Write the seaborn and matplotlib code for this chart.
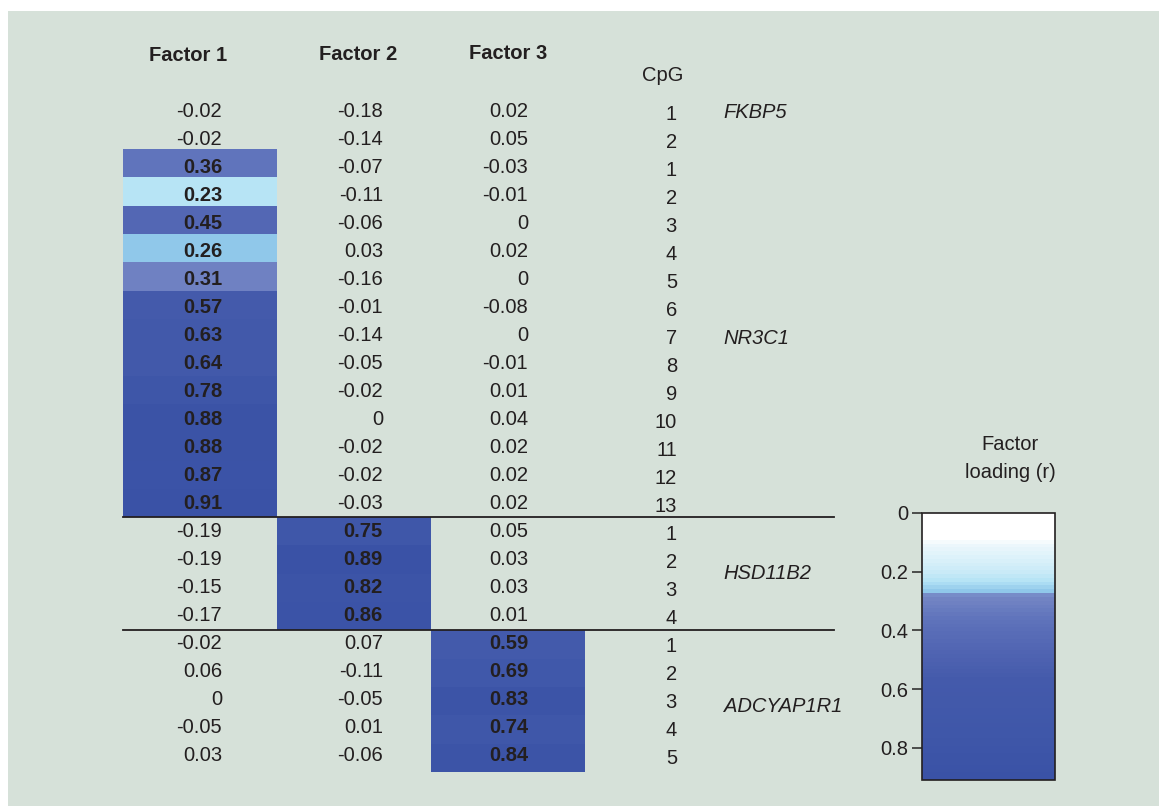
import numpy as np
import matplotlib
matplotlib.use("Agg")
import matplotlib.pyplot as plt
import seaborn as sns
from matplotlib.colors import LinearSegmentedColormap
from matplotlib.patches import Rectangle

plt.rcParams['font.family'] = ['Liberation Sans', 'DejaVu Sans']

# factor loadings per CpG row
factor1 = [-0.02, -0.02, 0.36, 0.23, 0.45, 0.26, 0.31, 0.57, 0.63, 0.64, 0.78, 0.88, 0.88, 0.87, 0.91,
           -0.19, -0.19, -0.15, -0.17, -0.02, 0.06, 0, -0.05, 0.03]
factor2 = [-0.18, -0.14, -0.07, -0.11, -0.06, 0.03, -0.16, -0.01, -0.14, -0.05, -0.02, 0, -0.02, -0.02, -0.03,
           0.75, 0.89, 0.82, 0.86, 0.07, -0.11, -0.05, 0.01, -0.06]
factor3 = [0.02, 0.05, -0.03, -0.01, 0, 0.02, 0, -0.08, 0, -0.01, 0.01, 0.04, 0.02, 0.02, 0.02,
           0.05, 0.03, 0.03, 0.01, 0.59, 0.69, 0.83, 0.74, 0.84]
cpg = [1, 2, 1, 2, 3, 4, 5, 6, 7, 8, 9, 10, 11, 12, 13, 1, 2, 3, 4, 1, 2, 3, 4, 5]
genes = ['FKBP5', 'NR3C1', 'HSD11B2', 'ADCYAP1R1']
gene_rows = [0.72, 8.70, 16.98, 21.68]
# which factor each gene block loads on (start row, end row, column)
blocks = [(2, 15, 0), (15, 19, 1), (19, 24, 2)]
headers = ['Factor 1', 'Factor 2', 'Factor 3']

data = np.array([factor1, factor2, factor3]).T
mask = np.ones_like(data, dtype=bool)
for r0, r1, c in blocks:
    mask[r0:r1, c] = False

vmax = 0.91
stops = [(0.00, '#ffffff'), (0.08, '#ffffff'), (0.10, '#eef8fc'), (0.20, '#c8eaf7'),
         (0.23, '#b3e2f5'), (0.26, '#94cbeb'), (0.268, '#8cc4e8'), (0.278, '#7586c4'),
         (0.31, '#6d80c2'), (0.36, '#5f73bb'), (0.45, '#5367b4'), (0.57, '#445aab'),
         (0.75, '#3f57a9'), (0.91, '#3a52a6')]
cmap = LinearSegmentedColormap.from_list('loading', [(v / vmax, c) for v, c in stops], N=70)

bg = '#d6e1d9'
fig = plt.figure(figsize=(11.59, 8.06), dpi=100, facecolor='white')
fig.add_artist(Rectangle((8 / 1159, 0), 1, 1 - 11 / 806, transform=fig.transFigure,
                         facecolor=bg, edgecolor='none', zorder=-10))

ax = fig.add_axes([123 / 1159, (806 - 772) / 806, 462 / 1159, 679.6 / 806])
cax = fig.add_axes([922 / 1159, (806 - 780) / 806, 133 / 1159, 267 / 806])

sns.heatmap(data, mask=mask, cmap=cmap, vmin=0, vmax=vmax, ax=ax, cbar_ax=cax,
            xticklabels=False, yticklabels=False, cbar_kws={'ticks': [0, 0.2, 0.4, 0.6, 0.8]})
ax.patch.set_alpha(0)
ax.set_xlim(0, 3)
ax.set_ylim(24, 0)

fs = 14.5
txt = '#231f20'
rh = 28.32  # pixel height of one row
right_off = [0.643, 0.688, 0.63]
for i in range(24):
    ty = (112 + 28.0 * i - 92.4) / rh
    for j in range(3):
        v = data[i, j]
        s = '0' if v == 0 else f'{v:.2f}'
        ax.text(j + right_off[j], ty, s, ha='right', va='center', fontsize=fs, color=txt,
                fontweight='normal' if mask[i, j] else 'bold', clip_on=False)
    ax.text(3.597, ty + 0.1, str(cpg[i]), ha='right', va='center', fontsize=fs, color=txt, clip_on=False)

for g, r in zip(genes, gene_rows):
    ax.text(3.90, r, g, ha='left', va='center', fontsize=fs, style='italic', color=txt, clip_on=False)

for j, (h, y) in enumerate(zip(headers, [-1.29, -1.33, -1.37])):
    ax.text([0.42, 1.526, 2.5][j], y, h, ha='center', va='center', fontsize=fs,
            fontweight='bold', color=txt, clip_on=False)
ax.text(3.506, -0.61, 'CpG', ha='center', va='center', fontsize=fs, color=txt, clip_on=False)

for yl in [15, 19]:
    ax.plot([0, 4.617], [yl, yl], color='#231f20', lw=1.3, clip_on=False)

# colorbar
cax.set_ylim(vmax, 0)
cax.yaxis.set_ticks_position('left')
cax.set_yticklabels(['0', '0.2', '0.4', '0.6', '0.8'])
cax.tick_params(axis='y', length=7, width=1.2, color='#333333', labelsize=fs, labelcolor=txt, pad=3)
cbar = ax.collections[0].colorbar
cbar.outline.set_visible(True)
cbar.outline.set_edgecolor('#231f20')
cbar.outline.set_linewidth(1.2)
fig.text(1010 / 1159, 1 - 458 / 806, 'Factor\nloading (r)', ha='center', va='center',
         fontsize=fs, color=txt, linespacing=1.6)

fig.savefig('out.png', dpi=100, facecolor='white')
